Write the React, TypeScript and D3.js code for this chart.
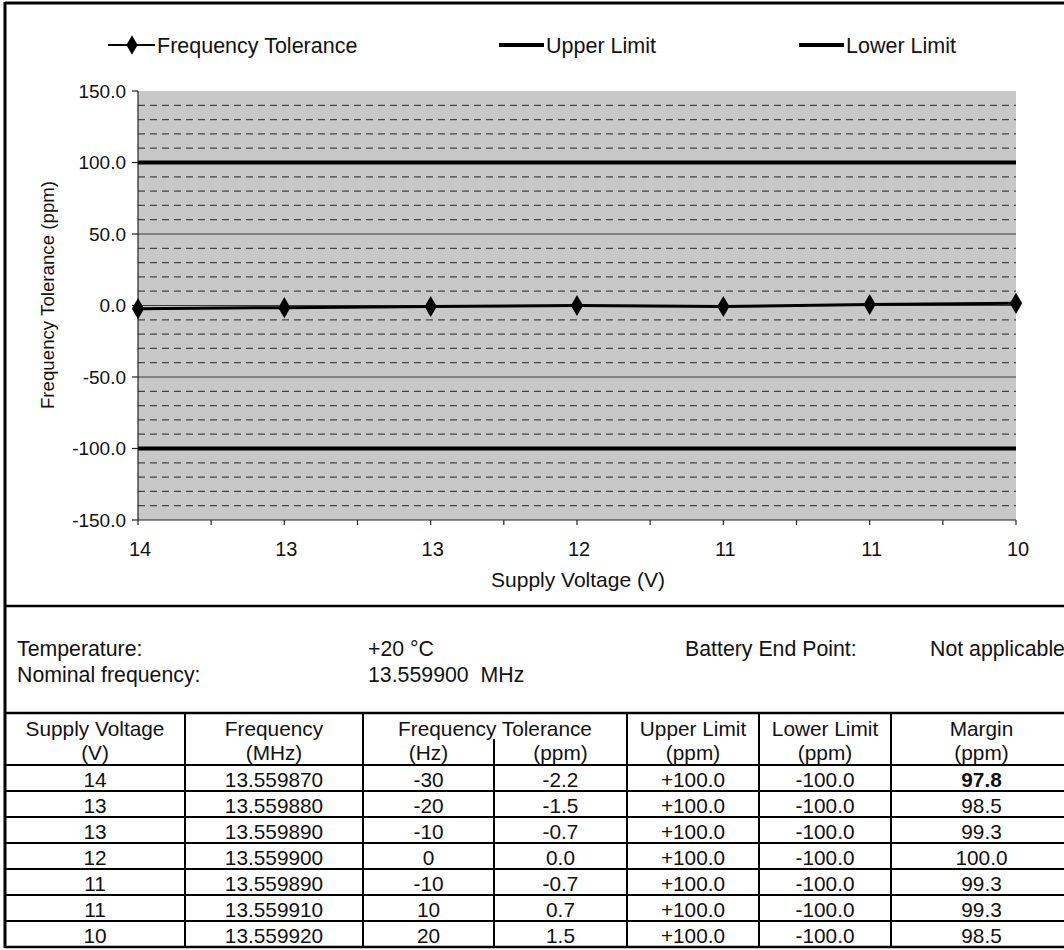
import React from 'react';
import * as d3 from 'd3';

const voltageLabels = ['14', '13', '13', '12', '11', '11', '10'];
const frequencyMHz = ['13.559870', '13.559880', '13.559890', '13.559900', '13.559890', '13.559910', '13.559920'];
const toleranceHz = ['-30', '-20', '-10', '0', '-10', '10', '20'];
const tolerancePpm = [-2.2, -1.5, -0.7, 0.0, -0.7, 0.7, 1.5];
const upperLimit = [100, 100, 100, 100, 100, 100, 100];
const lowerLimit = [-100, -100, -100, -100, -100, -100, -100];
const marginPpm = [97.8, 98.5, 99.3, 100.0, 99.3, 99.3, 98.5];
const yTicks = [150, 100, 50, 0, -50, -100, -150];
const legendItems = ['Frequency Tolerance', 'Upper Limit', 'Lower Limit'];

const FONT = '"Liberation Sans", Arial, Helvetica, sans-serif';

export default function App() {
  const W = 1064;
  const H = 950;
  const plot = { left: 138, right: 1016, top: 91, bottom: 520 };
  const x = d3.scaleLinear().domain([0, voltageLabels.length - 1]).range([plot.left, plot.right]);
  const y = d3.scaleLinear().domain([-150, 150]).range([plot.bottom, plot.top]);

  const minorVals = d3.range(-140, 150, 10).filter((v) => v % 50 !== 0);
  const majorVals = [-50, 0, 50];
  const halfTicks = d3.range(0, voltageLabels.length - 0.5, 0.5);

  const line = d3
    .line<number>()
    .x((_, i) => x(i))
    .y((d) => y(d));

  const diamond = d3.symbol().type(d3.symbolDiamond).size(130)() as string;
  const diamondSmall = d3.symbol().type(d3.symbolDiamond).size(110)() as string;

  const legendX = [108, 499, 799];
  const legY = 45;

  // table geometry
  const tTop = 713;
  const tHead = 765;
  const rowH = 26;
  const cols = [5, 185, 363, 627, 759, 891, 1072];
  const subDiv = 494;
  const colCenters = [95, 274, 428.5, 560.5, 693, 825, 981.5];
  const tBottom = tHead + rowH * voltageLabels.length;

  const fmt1 = (v: number) => v.toFixed(1);
  const fmtSigned = (v: number) => (v > 0 ? '+' : '') + fmt1(v);

  const rows = voltageLabels.map((v, i) => [
    v,
    frequencyMHz[i],
    toleranceHz[i],
    fmt1(tolerancePpm[i]),
    fmtSigned(upperLimit[i]),
    fmtSigned(lowerLimit[i]),
    fmt1(marginPpm[i]),
  ]);

  return (
    <svg
      width={W}
      height={H}
      style={{ position: 'absolute', left: 0, top: 0, background: '#fff' }}
      fontFamily={FONT}
    >
      <rect x={0} y={0} width={W} height={H} fill="#fff" />
      {/* plot background */}
      <rect x={plot.left} y={plot.top} width={plot.right - plot.left} height={plot.bottom - plot.top} fill="#c8c8c8" />
      {/* minor dashed grid */}
      {minorVals.map((v) => (
        <line
          key={'m' + v}
          x1={plot.left}
          x2={plot.right}
          y1={y(v)}
          y2={y(v)}
          stroke="#444"
          strokeWidth={1.3}
          strokeDasharray="7,5"
        />
      ))}
      {/* major grid */}
      {majorVals.map((v) => (
        <line key={'M' + v} x1={plot.left} x2={plot.right} y1={y(v)} y2={y(v)} stroke="#3a3a3a" strokeWidth={1} />
      ))}
      {/* limits */}
      <path d={line(upperLimit) as string} stroke="#000" strokeWidth={4} fill="none" />
      <path d={line(lowerLimit) as string} stroke="#000" strokeWidth={4} fill="none" />
      {/* axes */}
      <line x1={plot.left} x2={plot.left} y1={plot.top} y2={plot.bottom} stroke="#222" strokeWidth={1.2} />
      <line x1={plot.left} x2={plot.right} y1={plot.bottom} y2={plot.bottom} stroke="#222" strokeWidth={1.2} />
      {yTicks.map((v) => (
        <g key={'yt' + v}>
          <line x1={plot.left - 6} x2={plot.left} y1={y(v)} y2={y(v)} stroke="#222" strokeWidth={1.2} />
          <text x={126} y={y(v)} dy="0.36em" textAnchor="end" fontSize={19} fill="#111">
            {fmt1(v)}
          </text>
        </g>
      ))}
      {halfTicks.map((t) => (
        <line key={'xt' + t} x1={x(t)} x2={x(t)} y1={plot.bottom} y2={plot.bottom + 5} stroke="#222" strokeWidth={1.2} />
      ))}
      {voltageLabels.map((l, i) => (
        <text key={'xl' + i} x={x(i) + 2} y={556} textAnchor="middle" fontSize={20} fill="#111">
          {l}
        </text>
      ))}
      <text x={578} y={587} textAnchor="middle" fontSize={21} fill="#111">
        Supply Voltage (V)
      </text>
      <text transform="translate(54,295) rotate(-90)" textAnchor="middle" fontSize={18.7} fill="#111">
        Frequency Tolerance (ppm)
      </text>
      {/* data */}
      <path d={line(tolerancePpm) as string} stroke="#000" strokeWidth={3} fill="none" />
      {tolerancePpm.map((v, i) => (
        <path key={'pt' + i} d={diamond} transform={`translate(${x(i)},${y(v)})`} fill="#000" />
      ))}
      {/* legend */}
      <g>
        <line x1={legendX[0]} x2={legendX[0] + 47} y1={legY} y2={legY} stroke="#000" strokeWidth={2} />
        <path d={diamondSmall} transform={`translate(${legendX[0] + 24},${legY})`} fill="#000" />
        <text x={legendX[0] + 49} y={legY + 7.5} fontSize={21.5} fill="#111">
          {legendItems[0]}
        </text>
        <line x1={legendX[1]} x2={legendX[1] + 45} y1={legY} y2={legY} stroke="#000" strokeWidth={4} />
        <text x={legendX[1] + 47} y={legY + 7.5} fontSize={21.5} fill="#111">
          {legendItems[1]}
        </text>
        <line x1={legendX[2]} x2={legendX[2] + 45} y1={legY} y2={legY} stroke="#000" strokeWidth={4} />
        <text x={legendX[2] + 47} y={legY + 7.5} fontSize={21.5} fill="#111">
          {legendItems[2]}
        </text>
      </g>
      {/* frame */}
      <line x1={5} x2={W} y1={3} y2={3} stroke="#000" strokeWidth={3} />
      <line x1={5} x2={5} y1={2} y2={tBottom + 1} stroke="#000" strokeWidth={3} />
      <line x1={5} x2={W} y1={606} y2={606} stroke="#000" strokeWidth={2.5} />
      {/* info */}
      <g fontSize={21.3} fill="#111">
        <text x={17} y={656}>Temperature:</text>
        <text x={17} y={682}>Nominal frequency:</text>
        <text x={368} y={656}>+20 °C</text>
        <text x={368} y={682} style={{ whiteSpace: 'pre' }}>
          {'13.559900  MHz'}
        </text>
        <text x={685} y={656}>Battery End Point:</text>
        <text x={930} y={656}>Not applicable</text>
      </g>
      {/* table */}
      <g stroke="#000" strokeWidth={2}>
        <line x1={5} x2={W} y1={tTop} y2={tTop} strokeWidth={2.5} />
        {d3.range(voltageLabels.length + 1).map((r) => (
          <line key={'rl' + r} x1={5} x2={W} y1={tHead + r * rowH} y2={tHead + r * rowH} strokeWidth={r === voltageLabels.length ? 2.5 : 2} />
        ))}
        {cols.slice(1).map((cx) => (
          <line key={'cl' + cx} x1={cx} x2={cx} y1={tTop} y2={tBottom} />
        ))}
        <line x1={subDiv} x2={subDiv} y1={739} y2={tBottom} />
      </g>
      <g fontSize={20.8} fill="#111" textAnchor="middle">
        <text x={colCenters[0]} y={736}>Supply Voltage</text>
        <text x={colCenters[0]} y={760}>(V)</text>
        <text x={colCenters[1]} y={736}>Frequency</text>
        <text x={colCenters[1]} y={760}>(MHz)</text>
        <text x={(cols[2] + cols[3]) / 2} y={736}>Frequency Tolerance</text>
        <text x={colCenters[2]} y={760}>(Hz)</text>
        <text x={colCenters[3]} y={760}>(ppm)</text>
        <text x={colCenters[4]} y={736}>Upper Limit</text>
        <text x={colCenters[4]} y={760}>(ppm)</text>
        <text x={colCenters[5]} y={736}>Lower Limit</text>
        <text x={colCenters[5]} y={760}>(ppm)</text>
        <text x={colCenters[6]} y={736}>Margin</text>
        <text x={colCenters[6]} y={760}>(ppm)</text>
        {rows.map((row, r) =>
          row.map((cell, c) => (
            <text
              key={`c${r}-${c}`}
              x={colCenters[c]}
              y={tHead + (r + 1) * rowH - 4}
              fontWeight={c === 6 && marginPpm[r] === d3.min(marginPpm) ? 'bold' : 'normal'}
            >
              {cell}
            </text>
          ))
        )}
      </g>
    </svg>
  );
}
